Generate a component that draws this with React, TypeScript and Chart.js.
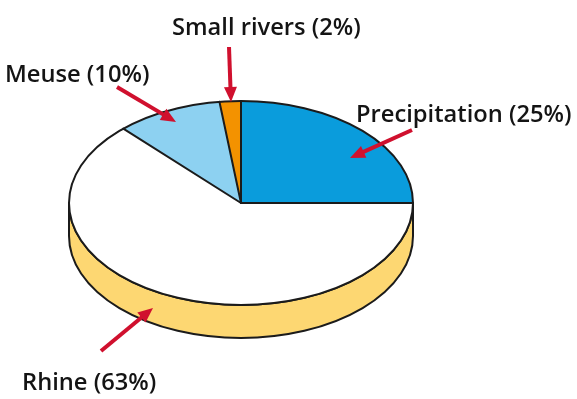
import React, { useEffect, useRef } from "react";
import { Chart, registerables } from "chart.js";

Chart.register(...registerables);

// ---- data ----
const categories = ["Precipitation", "Rhine", "Meuse", "Small rivers"];
const shares = [25, 63, 10, 2];
const topColors = ["#0A9CDC", "#FFFFFF", "#8DD1F1", "#F39200"];
const sideColors = ["#0A7FB5", "#FDD772", "#6FB9DD", "#D07C00"];

// ---- annotation layout (label anchor = left/baseline, arrow from -> tip) ----
const labelLayout = [
  { x: 356, y: 122, from: [412, 130], to: [350, 158] },
  { x: 22, y: 390, from: [101, 351], to: [153, 308] },
  { x: 5, y: 82, from: [117, 87], to: [176, 122] },
  { x: 172, y: 35, from: [229, 47], to: [231, 102] },
];

const SQUASH = 102 / 172;
const DEPTH = 33;
const EDGE = "#1b1b1b";
const ARROW = "#D0102E";
const FONT = '600 23.7px "Open Sans", "Noto Sans", sans-serif';

function arcGeom(chart: any) {
  const meta = chart.getDatasetMeta(0);
  const arcs = meta.data as any[];
  if (!arcs.length) return null;
  const p = arcs[0].getProps(["x", "y", "outerRadius"], true);
  return { arcs, cx: p.x, cy: p.y, r: p.outerRadius, ry: p.outerRadius * SQUASH };
}

const pie3d = {
  id: "pie3d",
  beforeDatasetsDraw(chart: any) {
    const ctx = chart.ctx as CanvasRenderingContext2D;
    const g = arcGeom(chart);
    ctx.save();
    if (g) {
      const { arcs, cx, cy, r, ry } = g;
      ctx.lineWidth = 2;
      ctx.strokeStyle = EDGE;
      ctx.lineJoin = "round";
      arcs.forEach((arc: any, i: number) => {
        const { startAngle, endAngle } = arc.getProps(["startAngle", "endAngle"], true);
        const a = Math.max(startAngle, 0);
        const b = Math.min(endAngle, Math.PI);
        if (b <= a) return;
        ctx.beginPath();
        ctx.ellipse(cx, cy, r, ry, 0, a, b);
        ctx.ellipse(cx, cy + DEPTH, r, ry, 0, b, a, true);
        ctx.closePath();
        ctx.fillStyle = sideColors[i];
        ctx.fill();
        ctx.stroke();
      });
      ctx.translate(0, cy);
      ctx.scale(1, SQUASH);
      ctx.translate(0, -cy);
    }
  },
  afterDatasetsDraw(chart: any) {
    const ctx = chart.ctx as CanvasRenderingContext2D;
    ctx.restore();
    const g = arcGeom(chart);
    if (!g) return;
    const { arcs, cx, cy, r, ry } = g;
    ctx.save();
    ctx.lineWidth = 2;
    ctx.strokeStyle = EDGE;
    ctx.lineCap = "round";
    arcs.forEach((arc: any) => {
      const { startAngle } = arc.getProps(["startAngle"], true);
      ctx.beginPath();
      ctx.moveTo(cx, cy);
      ctx.lineTo(cx + r * Math.cos(startAngle), cy + ry * Math.sin(startAngle));
      ctx.stroke();
    });
    ctx.beginPath();
    ctx.ellipse(cx, cy, r, ry, 0, 0, Math.PI * 2);
    ctx.stroke();
    ctx.restore();
  },
  afterDraw(chart: any) {
    const ctx = chart.ctx as CanvasRenderingContext2D;
    ctx.save();
    // arrows
    labelLayout.forEach((l) => {
      const [x0, y0] = l.from;
      const [x1, y1] = l.to;
      const ang = Math.atan2(y1 - y0, x1 - x0);
      const head = 15;
      const half = 6.5;
      const bx = x1 - head * Math.cos(ang);
      const by = y1 - head * Math.sin(ang);
      ctx.strokeStyle = ARROW;
      ctx.fillStyle = ARROW;
      ctx.lineWidth = 4;
      ctx.lineCap = "butt";
      ctx.beginPath();
      ctx.moveTo(x0, y0);
      ctx.lineTo(bx + 2 * Math.cos(ang), by + 2 * Math.sin(ang));
      ctx.stroke();
      ctx.beginPath();
      ctx.moveTo(x1, y1);
      ctx.lineTo(bx + half * Math.sin(ang), by - half * Math.cos(ang));
      ctx.lineTo(bx - half * Math.sin(ang), by + half * Math.cos(ang));
      ctx.closePath();
      ctx.fill();
    });
    // labels
    ctx.font = FONT;
    ctx.fillStyle = "#141414";
    ctx.textAlign = "left";
    ctx.textBaseline = "alphabetic";
    categories.forEach((c, i) => {
      const l = labelLayout[i];
      ctx.fillText(`${c} (${shares[i]}%)`, l.x, l.y);
    });
    ctx.restore();
  },
};

export default function App() {
  const ref = useRef<HTMLCanvasElement | null>(null);
  useEffect(() => {
    if (!ref.current) return;
    const chart = new Chart(ref.current, {
      type: "pie",
      data: {
        labels: categories,
        datasets: [
          {
            data: shares,
            backgroundColor: topColors,
            borderWidth: 0,
            hoverOffset: 0,
            offset: 0,
          },
        ],
      },
      options: {
        animation: false,
        responsive: true,
        maintainAspectRatio: false,
        radius: 172,
        rotation: 0,
        layout: { padding: { left: 69, right: 164, top: 31, bottom: 24 } },
        plugins: {
          legend: { display: false },
          tooltip: { enabled: false },
        },
        events: [],
      } as any,
      plugins: [pie3d],
    });
    return () => chart.destroy();
  }, []);
  return (
    <div style={{ position: "absolute", left: 0, top: 0, width: 577, height: 399, background: "#fff" }}>
      <canvas ref={ref} />
    </div>
  );
}
